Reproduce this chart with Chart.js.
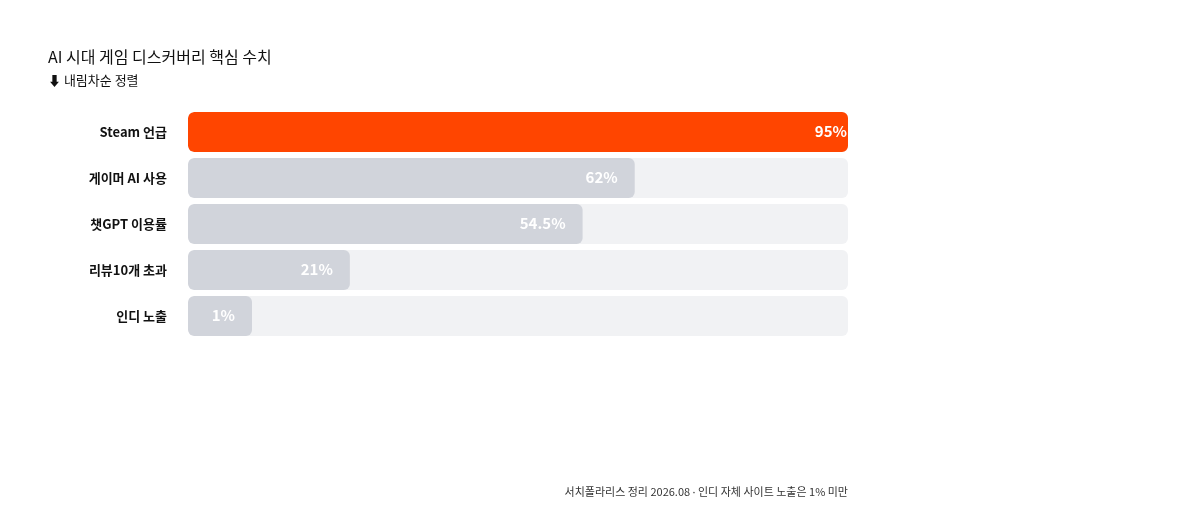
<!DOCTYPE html>
<html>
<head>
<meta charset="utf-8">
<script src="https://cdn.jsdelivr.net/npm/chart.js@4.4.1/dist/chart.umd.min.js"></script>
<style>
  html,body{margin:0;padding:0;background:#fff;}
  #wrap{position:relative;width:1200px;height:522px;font-family:"Noto Sans CJK KR","Noto Sans",sans-serif;}
  #title{position:absolute;left:48px;top:44px;font-size:16px;color:#111;white-space:nowrap;}
  #sub{position:absolute;left:48px;top:70px;font-size:13px;color:#111;white-space:nowrap;}
  #foot{position:absolute;right:352px;top:483px;font-size:11px;color:#333;white-space:nowrap;}
  #foot .dot{font-family:"Noto Sans","DejaVu Sans",sans-serif;}
  canvas{position:absolute;left:0;top:0;}
</style>
</head>
<body>
<div id="wrap">
  <canvas id="c" width="1200" height="522"></canvas>
  <div id="title">AI 시대 게임 디스커버리 핵심 수치</div>
  <div id="sub">⬇ 내림차순 정렬</div>
  <div id="foot">서치폴라리스 정리 2026.08 <span class="dot">·</span> 인디 자체 사이트 노출은 1% 미만</div>
</div>
<script>
const categories = ["Steam 언급", "게이머 AI 사용", "챗GPT 이용률", "리뷰10개 초과", "인디 노출"];
const values = [95, 62, 54.5, 21, 1];
const valueLabels = ["95%", "62%", "54.5%", "21%", "1%"];
const highlightIndex = 0;

const scaleMin = -2.3;
const scaleMax = 92.7;

const trackPlugin = {
  id: 'track',
  beforeDatasetsDraw(chart) {
    const ctx = chart.ctx;
    const area = chart.chartArea;
    const meta = chart.getDatasetMeta(0);
    ctx.save();
    ctx.fillStyle = '#f1f2f4';
    meta.data.forEach(bar => {
      const h = bar.height;
      ctx.beginPath();
      ctx.roundRect(area.left, bar.y - h / 2, area.right - area.left, h, 6);
      ctx.fill();
    });
    ctx.restore();
    ctx.save();
    ctx.beginPath();
    meta.data.forEach(bar => {
      const h = bar.height;
      ctx.roundRect(area.left, bar.y - h / 2, area.right - area.left, h, 6);
    });
    ctx.clip();
  },
  afterDatasetsDraw(chart) {
    const ctx = chart.ctx;
    ctx.restore();
    const meta = chart.getDatasetMeta(0);
    ctx.save();
    ctx.font = '700 15px "Noto Sans CJK KR", "Noto Sans", sans-serif';
    ctx.fillStyle = '#ffffff';
    ctx.textAlign = 'right';
    ctx.textBaseline = 'middle';
    meta.data.forEach((bar, i) => {
      ctx.fillText(valueLabels[i], bar.x - 17, bar.y - 0.5);
    });
    ctx.restore();
  }
};

new Chart(document.getElementById('c'), {
  type: 'bar',
  data: {
    labels: categories,
    datasets: [{
      data: values,
      base: scaleMin,
      backgroundColor: values.map((v, i) => i === highlightIndex ? '#ff4500' : '#d1d4db'),
      borderRadius: 6,
      borderSkipped: false,
      barPercentage: 40 / 46,
      categoryPercentage: 1,
      minBarLength: 64,
      clip: false
    }]
  },
  options: {
    indexAxis: 'y',
    responsive: false,
    animation: false,
    devicePixelRatio: 1,
    layout: { padding: { left: 0, right: 352, top: 109, bottom: 183 } },
    plugins: { legend: { display: false }, tooltip: { enabled: false }, title: { display: false } },
    scales: {
      x: {
        min: scaleMin, max: scaleMax,
        display: false
      },
      y: {
        grid: { display: false, drawTicks: false },
        border: { display: false },
        afterFit(scale) { scale.width = 188; },
        ticks: {
          padding: 21,
          color: '#111111',
          font: { family: '"Noto Sans CJK KR", "Noto Sans", sans-serif', size: 13, weight: '600' }
        }
      }
    }
  },
  plugins: [trackPlugin]
});
</script>
</body>
</html>
